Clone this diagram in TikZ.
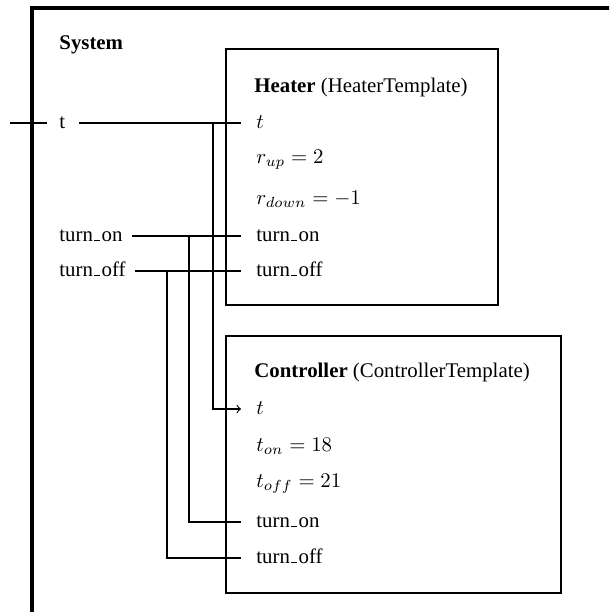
\documentclass[tikz,border=0pt]{standalone}
\usepackage{fontspec}
\setmainfont{Liberation Serif}
\usetikzlibrary{fit}

% short underscore rule sitting on the baseline
\newcommand{\usc}{\leavevmode\kern.06em\vbox{\hrule width.3em}\kern.06em}

\tikzset{
  frame/.style={draw, line width=1.6pt, inner sep=0pt},
  box/.style={draw, line width=0.9pt, inner sep=0pt},
  wire/.style={line width=0.55pt},
  title/.style={anchor=base west, inner sep=0pt},
  port/.style={anchor=base west, inner sep=0pt},
  sysport/.style={anchor=base west, inner xsep=4.4pt, inner ysep=0pt, xshift=-4.4pt},
}

\begin{document}
\begin{tikzpicture}[x=0.48pt, y=-0.48pt]
  \useasboundingbox (0,0) rectangle (609,612);
  \clip (0,0) rectangle (609,612);

  % enclosing system
  \node[frame, fit={(32,8) (680,680)}] (system) {};
  \node[title] (systitle) at (59,50) {\textbf{System}};

  % component boxes
  \node[box, fit={(226,49) (498,305)}] (heater) {};
  \node[box, fit={(226,336) (561,593)}] (controller) {};
  \node[title] (htitle) at (254,92) {\textbf{Heater} (HeaterTemplate)};
  \node[title] (ctitle) at (254,377) {\textbf{Controller} (ControllerTemplate)};

  % heater ports
  \coordinate (h-t)   at (241,123);
  \coordinate (h-on)  at (241,236);
  \coordinate (h-off) at (241,271);
  \node[port] (h-t-lab)    at (256,128) {$t$};
  \node[port] (h-rup)      at (256,163) {$r_{up} = 2$};
  \node[port] (h-rdown)    at (256,204) {$r_{down} = -1$};
  \node[port] (h-on-lab)   at (256,241) {turn\usc on};
  \node[port] (h-off-lab)  at (256,276) {turn\usc off};

  % controller ports
  \coordinate (c-t)   at (241,409);
  \coordinate (c-on)  at (241,522);
  \coordinate (c-off) at (241,558);
  \node[port] (c-t-lab)    at (256,414) {$t$};
  \node[port] (c-ton)      at (256,451) {$t_{on} = 18$};
  \node[port] (c-toff)     at (256,487) {$t_{off} = 21$};
  \node[port] (c-on-lab)   at (256,527) {turn\usc on};
  \node[port] (c-off-lab)  at (256,563) {turn\usc off};

  % system ports
  \node[sysport] (s-t)   at (59,128) {t};
  \node[sysport] (s-on)  at (59,241) {turn\usc on};
  \node[sysport] (s-off) at (59,276) {turn\usc off};
  \coordinate (ext-t) at (10,123);
  \coordinate (pin-t) at (47,123);

  % branch points
  \coordinate (j-t)   at (213,123);
  \coordinate (j-on)  at (189,236);
  \coordinate (j-off) at (167,271);

  % wiring
  \draw[wire] (ext-t) -- (pin-t);
  \draw[wire] ([xshift=2pt]s-t.east |- h-t) -- (h-t);
  \draw[wire] (s-on.east |- h-on) -- (h-on);
  \draw[wire] (s-off.east |- h-off) -- (h-off);
  \draw[wire, ->] (j-t) |- (c-t);
  \draw[wire] (j-on) |- (c-on);
  \draw[wire] (j-off) |- (c-off);
\end{tikzpicture}
\end{document}
